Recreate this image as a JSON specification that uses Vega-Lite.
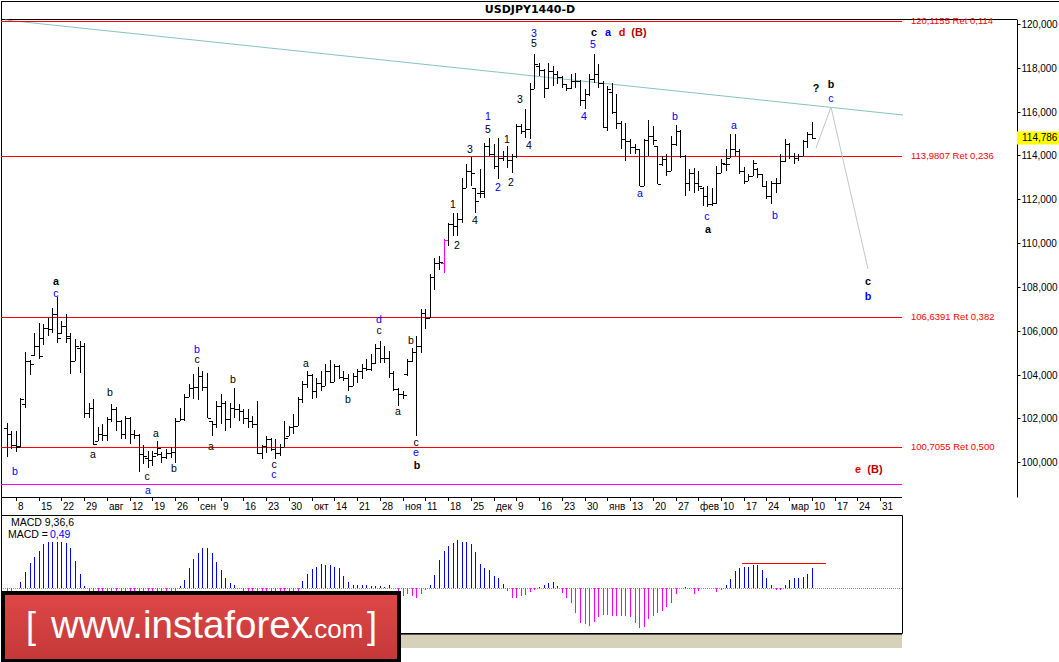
{
"$schema":"https://vega.github.io/schema/vega-lite/v6.json",
"background":"#ffffff",
"padding":0,
"spacing":18,
"bounds":"flush",
"config":{"view":{"stroke":null},"axis":{"grid":false},"locale":{"number":{"decimal":",","thousands":" ","grouping":[3],"currency":["",""]}}},
"datasets":{
"bars":[
{"i":-2,"o":101.57,"h":101.8,"l":100.25,"c":101.27},{"i":-1,"o":101.27,"h":101.42,"l":100.59,"c":100.78},{"i":0,"o":100.78,"h":101.42,"l":100.48,"c":100.71},{"i":1,"o":100.75,"h":102.94,"l":100.71,"c":102.87},{"i":2,"o":102.64,"h":105.03,"l":102.49,"c":104.62},{"i":3,"o":104.6,"h":104.66,"l":103.98,"c":104.47},{"i":4,"o":104.9,"h":105.91,"l":104.84,"c":105.3},{"i":5,"o":105.3,"h":106.37,"l":104.69,"c":104.84},{"i":6,"o":105.68,"h":106.32,"l":105.35,"c":106.14},{"i":7,"o":106.14,"h":106.56,"l":105.76,"c":106.06},{"i":8,"o":106.06,"h":107.05,"l":105.88,"c":106.75},{"i":9,"o":106.75,"h":107.54,"l":105.45,"c":105.68},{"i":10,"o":105.91,"h":106.44,"l":105.83,"c":106.21},{"i":11,"o":106.21,"h":106.75,"l":105.45,"c":105.76},{"i":12,"o":105.68,"h":105.91,"l":104.04,"c":104.62},{"i":13,"o":104.62,"h":105.6,"l":104.62,"c":105.3},{"i":14,"o":105.23,"h":105.53,"l":104.08,"c":105.3},{"i":15,"o":105.3,"h":105.45,"l":102.03,"c":102.26},{"i":16,"o":102.26,"h":102.72,"l":102.03,"c":102.49},{"i":17,"o":102.49,"h":102.87,"l":100.78,"c":100.82},{"i":18,"o":100.97,"h":101.62,"l":100.97,"c":101.27},{"i":19,"o":101.27,"h":101.73,"l":100.97,"c":101.24},{"i":20,"o":101.24,"h":102.06,"l":100.97,"c":101.95},{"i":21,"o":101.95,"h":102.64,"l":101.85,"c":102.41},{"i":22,"o":102.41,"h":102.52,"l":101.42,"c":101.88},{"i":23,"o":101.88,"h":101.91,"l":101.04,"c":101.27},{"i":24,"o":101.27,"h":102.11,"l":101.04,"c":102.0},{"i":25,"o":102.0,"h":102.06,"l":100.82,"c":101.27},{"i":26,"o":101.27,"h":101.45,"l":101.04,"c":101.24},{"i":27,"o":101.24,"h":101.3,"l":99.57,"c":100.36},{"i":28,"o":100.36,"h":100.77,"l":99.9,"c":100.28},{"i":29,"o":100.2,"h":100.51,"l":99.72,"c":100.08},{"i":30,"o":100.08,"h":100.51,"l":99.83,"c":100.28},{"i":31,"o":100.43,"h":100.97,"l":100.28,"c":100.66},{"i":32,"o":100.36,"h":100.48,"l":99.98,"c":100.24},{"i":33,"o":100.24,"h":100.59,"l":100.13,"c":100.43},{"i":34,"o":100.43,"h":100.69,"l":100.21,"c":100.48},{"i":35,"o":100.48,"h":102.03,"l":99.98,"c":101.88},{"i":36,"o":101.88,"h":102.49,"l":101.88,"c":101.95},{"i":37,"o":101.95,"h":103.1,"l":101.88,"c":102.97},{"i":38,"o":102.97,"h":103.55,"l":102.97,"c":103.37},{"i":39,"o":103.37,"h":104.01,"l":102.87,"c":103.43},{"i":40,"o":103.43,"h":104.34,"l":102.84,"c":103.93},{"i":41,"o":103.93,"h":104.16,"l":103.25,"c":103.43},{"i":42,"o":103.43,"h":104.08,"l":102.0,"c":102.03},{"i":43,"o":101.88,"h":101.9,"l":101.19,"c":101.73},{"i":44,"o":101.73,"h":102.79,"l":101.57,"c":102.56},{"i":45,"o":102.56,"h":103.1,"l":101.73,"c":102.72},{"i":46,"o":102.72,"h":102.8,"l":101.42,"c":101.95},{"i":47,"o":101.95,"h":102.72,"l":101.57,"c":102.49},{"i":48,"o":102.49,"h":103.4,"l":102.03,"c":102.41},{"i":49,"o":102.41,"h":102.64,"l":101.88,"c":102.34},{"i":50,"o":102.34,"h":102.41,"l":101.73,"c":102.03},{"i":51,"o":102.03,"h":102.41,"l":101.57,"c":101.88},{"i":52,"o":101.88,"h":102.11,"l":101.57,"c":101.73},{"i":53,"o":101.73,"h":102.79,"l":100.36,"c":100.4},{"i":54,"o":100.4,"h":100.78,"l":100.13,"c":100.74},{"i":55,"o":100.74,"h":101.19,"l":100.43,"c":101.04},{"i":56,"o":101.04,"h":101.12,"l":100.51,"c":100.59},{"i":57,"o":100.59,"h":101.04,"l":100.13,"c":100.43},{"i":58,"o":100.43,"h":100.81,"l":100.28,"c":100.69},{"i":59,"o":100.69,"h":101.88,"l":100.69,"c":101.12},{"i":60,"o":101.19,"h":101.65,"l":101.19,"c":101.6},{"i":61,"o":101.6,"h":102.18,"l":101.27,"c":101.65},{"i":62,"o":101.65,"h":102.97,"l":101.65,"c":102.87},{"i":63,"o":102.87,"h":103.7,"l":102.72,"c":103.55},{"i":64,"o":103.55,"h":104.16,"l":103.4,"c":103.98},{"i":65,"o":103.98,"h":104.01,"l":102.87,"c":103.25},{"i":66,"o":103.25,"h":103.86,"l":102.94,"c":103.63},{"i":67,"o":103.63,"h":104.16,"l":103.25,"c":103.48},{"i":68,"o":103.48,"h":104.47,"l":103.48,"c":104.16},{"i":69,"o":104.16,"h":104.65,"l":103.63,"c":103.67},{"i":70,"o":103.67,"h":104.47,"l":103.67,"c":104.39},{"i":71,"o":104.39,"h":104.45,"l":103.78,"c":103.89},{"i":72,"o":103.89,"h":104.16,"l":103.7,"c":103.86},{"i":73,"o":103.86,"h":104.01,"l":103.25,"c":103.48},{"i":74,"o":103.48,"h":104.09,"l":103.48,"c":103.93},{"i":75,"o":103.93,"h":104.24,"l":103.63,"c":104.16},{"i":76,"o":104.16,"h":104.47,"l":103.78,"c":104.31},{"i":77,"o":104.31,"h":104.69,"l":104.16,"c":104.24},{"i":78,"o":104.24,"h":104.92,"l":104.16,"c":104.54},{"i":79,"o":104.54,"h":105.38,"l":104.47,"c":105.23},{"i":80,"o":105.23,"h":105.53,"l":104.54,"c":104.77},{"i":81,"o":104.77,"h":105.3,"l":104.54,"c":104.77},{"i":82,"o":104.77,"h":105.07,"l":103.86,"c":104.09},{"i":83,"o":104.09,"h":104.16,"l":103.25,"c":103.32},{"i":84,"o":103.32,"h":103.4,"l":102.56,"c":103.13},{"i":85,"o":103.13,"h":103.25,"l":102.87,"c":103.07},{"i":86,"o":104.01,"h":104.69,"l":103.93,"c":104.62},{"i":87,"o":104.62,"h":105.23,"l":104.55,"c":105.05},{"i":88,"o":105.05,"h":105.75,"l":101.2,"c":105.3},{"i":89,"o":105.3,"h":106.98,"l":105.0,"c":106.8},{"i":90,"o":106.8,"h":106.98,"l":106.06,"c":106.6},{"i":91,"o":106.6,"h":108.57,"l":106.6,"c":108.45},{"i":92,"o":108.45,"h":109.33,"l":107.85,"c":109.1},{"i":93,"o":109.1,"h":109.4,"l":108.75,"c":109.15},{"i":94,"o":109.1,"h":110.17,"l":108.62,"c":110.14,"hl":1},{"i":95,"o":110.14,"h":110.93,"l":109.87,"c":110.88},{"i":96,"o":110.88,"h":111.38,"l":110.32,"c":110.8},{"i":97,"o":110.8,"h":111.36,"l":110.33,"c":111.1},{"i":98,"o":111.1,"h":112.98,"l":110.93,"c":112.53},{"i":99,"o":112.53,"h":113.59,"l":112.5,"c":113.29},{"i":100,"o":113.29,"h":113.93,"l":112.6,"c":113.21},{"i":101,"o":112.5,"h":112.53,"l":111.39,"c":111.92},{"i":102,"o":112.3,"h":113.36,"l":112.07,"c":112.37},{"i":103,"o":112.3,"h":114.58,"l":112.07,"c":114.43},{"i":104,"o":114.43,"h":114.81,"l":113.97,"c":114.05},{"i":105,"o":114.05,"h":114.5,"l":113.36,"c":113.51},{"i":106,"o":113.51,"h":114.81,"l":112.91,"c":113.86},{"i":107,"o":113.86,"h":114.2,"l":113.74,"c":113.97},{"i":108,"o":113.97,"h":114.43,"l":113.44,"c":113.8},{"i":109,"o":113.8,"h":114.05,"l":113.21,"c":113.97},{"i":110,"o":113.97,"h":115.42,"l":113.9,"c":115.34},{"i":111,"o":115.34,"h":115.42,"l":114.96,"c":115.11},{"i":112,"o":115.11,"h":116.1,"l":114.81,"c":115.19},{"i":113,"o":115.19,"h":117.32,"l":114.73,"c":117.01},{"i":114,"o":117.01,"h":118.64,"l":117.01,"c":118.15},{"i":115,"o":118.1,"h":118.2,"l":117.6,"c":117.9},{"i":116,"o":117.9,"h":117.92,"l":116.63,"c":117.09},{"i":117,"o":117.09,"h":118.23,"l":117.01,"c":117.85},{"i":118,"o":117.85,"h":118.08,"l":117.17,"c":117.7},{"i":119,"o":117.7,"h":117.85,"l":117.24,"c":117.57},{"i":120,"o":117.57,"h":117.6,"l":117.09,"c":117.24},{"i":121,"o":117.24,"h":117.26,"l":116.94,"c":117.09},{"i":122,"o":117.09,"h":117.7,"l":117.05,"c":117.39},{"i":123,"o":117.39,"h":117.77,"l":117.09,"c":117.39},{"i":124,"o":117.39,"h":117.45,"l":116.25,"c":116.51},{"i":125,"o":116.51,"h":117.01,"l":116.1,"c":116.78},{"i":126,"o":116.78,"h":117.7,"l":116.71,"c":117.47},{"i":127,"o":117.47,"h":118.61,"l":117.32,"c":117.73},{"i":128,"o":117.73,"h":118.15,"l":117.09,"c":117.32},{"i":129,"o":117.32,"h":117.4,"l":115.26,"c":115.29},{"i":130,"o":115.29,"h":117.17,"l":115.11,"c":117.01},{"i":131,"o":116.9,"h":117.32,"l":115.9,"c":115.96},{"i":132,"o":115.96,"h":116.78,"l":115.19,"c":115.49},{"i":133,"o":115.49,"h":115.55,"l":114.27,"c":114.73},{"i":134,"o":114.73,"h":115.49,"l":113.74,"c":114.65},{"i":135,"o":114.65,"h":114.73,"l":114.05,"c":114.38},{"i":136,"o":114.38,"h":114.5,"l":114.05,"c":114.27},{"i":137,"o":114.27,"h":114.3,"l":112.6,"c":112.62},{"i":138,"o":112.62,"h":114.73,"l":112.6,"c":114.69},{"i":139,"o":114.69,"h":115.6,"l":113.97,"c":114.88},{"i":140,"o":114.88,"h":115.34,"l":114.47,"c":114.69},{"i":141,"o":114.43,"h":114.45,"l":112.68,"c":112.7},{"i":142,"o":113.59,"h":113.97,"l":113.51,"c":113.82},{"i":143,"o":113.82,"h":114.05,"l":113.06,"c":113.29},{"i":144,"o":113.29,"h":114.88,"l":113.29,"c":114.5},{"i":145,"o":114.5,"h":115.38,"l":114.43,"c":115.11},{"i":146,"o":115.11,"h":115.15,"l":113.9,"c":113.97},{"i":147,"o":113.97,"h":114.0,"l":112.15,"c":112.75},{"i":148,"o":112.75,"h":113.4,"l":112.37,"c":113.21},{"i":149,"o":113.21,"h":113.44,"l":112.3,"c":112.75},{"i":150,"o":112.75,"h":113.29,"l":112.37,"c":112.6},{"i":151,"o":112.53,"h":112.55,"l":111.69,"c":112.15},{"i":152,"o":112.15,"h":112.6,"l":111.66,"c":111.76},{"i":153,"o":111.76,"h":112.53,"l":111.69,"c":111.84},{"i":154,"o":111.84,"h":113.51,"l":111.77,"c":113.21},{"i":155,"o":113.21,"h":113.82,"l":113.21,"c":113.67},{"i":156,"o":113.6,"h":114.27,"l":113.29,"c":113.6},{"i":157,"o":113.9,"h":114.96,"l":113.89,"c":114.27},{"i":158,"o":114.27,"h":114.96,"l":113.97,"c":114.2},{"i":159,"o":114.2,"h":114.27,"l":113.13,"c":113.29},{"i":160,"o":113.29,"h":113.47,"l":112.68,"c":112.83},{"i":161,"o":112.83,"h":113.13,"l":112.83,"c":113.06},{"i":162,"o":113.06,"h":113.79,"l":113.06,"c":113.67},{"i":163,"o":113.4,"h":113.44,"l":112.98,"c":113.13},{"i":164,"o":113.13,"h":113.15,"l":112.57,"c":112.6},{"i":165,"o":112.6,"h":112.83,"l":111.99,"c":112.15},{"i":166,"o":112.15,"h":112.83,"l":111.77,"c":112.75},{"i":167,"o":112.75,"h":112.98,"l":112.3,"c":112.75},{"i":168,"o":112.75,"h":114.05,"l":112.7,"c":113.74},{"i":169,"o":113.74,"h":114.73,"l":113.7,"c":114.5},{"i":170,"o":114.5,"h":114.55,"l":113.82,"c":113.97},{"i":171,"o":113.97,"h":114.12,"l":113.62,"c":113.9},{"i":172,"o":113.9,"h":114.08,"l":113.74,"c":113.97},{"i":173,"o":113.97,"h":114.72,"l":113.97,"c":114.65},{"i":174,"o":114.65,"h":115.08,"l":114.35,"c":114.99},{"i":175,"o":114.99,"h":115.52,"l":114.73,"c":114.786}
],
"macd":[
{"i":-2,"v":-0.1},{"i":-1,"v":-0.08},{"i":0,"v":-0.02},{"i":1,"v":0.14},{"i":2,"v":0.41},{"i":3,"v":0.63},{"i":4,"v":0.78},{"i":5,"v":0.93},{"i":6,"v":1.12},{"i":7,"v":1.16},{"i":8,"v":1.16},{"i":9,"v":1.16},{"i":10,"v":1.16},{"i":11,"v":1.13},{"i":12,"v":1.02},{"i":13,"v":0.68},{"i":14,"v":0.34},{"i":15,"v":0.04},
{"i":16,"v":-0.08},{"i":17,"v":-0.18},{"i":18,"v":-0.28},{"i":19,"v":-0.36},{"i":20,"v":-0.4},{"i":21,"v":-0.42},{"i":22,"v":-0.44},{"i":23,"v":-0.46},{"i":24,"v":-0.47},{"i":25,"v":-0.48},{"i":26,"v":-0.5},{"i":27,"v":-0.55},{"i":28,"v":-0.58},{"i":29,"v":-0.6},{"i":30,"v":-0.58},{"i":31,"v":-0.52},{"i":32,"v":-0.46},{"i":33,"v":-0.38},{"i":34,"v":-0.3},{"i":35,"v":-0.15},
{"i":36,"v":0.04},{"i":37,"v":0.19},{"i":38,"v":0.51},{"i":39,"v":0.74},{"i":40,"v":0.89},{"i":41,"v":1.0},{"i":42,"v":1.0},{"i":43,"v":0.89},{"i":44,"v":0.65},{"i":45,"v":0.44},{"i":46,"v":0.25},{"i":47,"v":0.13},{"i":48,"v":0.08},
{"i":49,"v":-0.02},{"i":50,"v":-0.08},{"i":51,"v":-0.14},{"i":52,"v":-0.2},{"i":53,"v":-0.3},{"i":54,"v":-0.38},{"i":55,"v":-0.42},{"i":56,"v":-0.45},{"i":57,"v":-0.46},{"i":58,"v":-0.44},{"i":59,"v":-0.38},{"i":60,"v":-0.3},{"i":61,"v":-0.2},{"i":62,"v":-0.1},
{"i":63,"v":0.17},{"i":64,"v":0.36},{"i":65,"v":0.47},{"i":66,"v":0.52},{"i":67,"v":0.59},{"i":68,"v":0.58},{"i":69,"v":0.57},{"i":70,"v":0.52},{"i":71,"v":0.49},{"i":72,"v":0.3},{"i":73,"v":0.14},{"i":74,"v":0.07},{"i":75,"v":0.07},{"i":76,"v":0.07},{"i":77,"v":0.08},{"i":78,"v":0.05},{"i":79,"v":0.04},{"i":80,"v":0.04},{"i":81,"v":0.03},{"i":82,"v":0.07},
{"i":83,"v":-0.02},{"i":84,"v":-0.13},{"i":85,"v":-0.21},{"i":86,"v":-0.17},{"i":87,"v":-0.21},{"i":88,"v":-0.25},{"i":89,"v":-0.17},{"i":90,"v":-0.07},
{"i":91,"v":0.07},{"i":92,"v":0.31},{"i":93,"v":0.7},{"i":94,"v":0.93},{"i":95,"v":1.06},{"i":96,"v":1.13},{"i":97,"v":1.2},{"i":98,"v":1.16},{"i":99,"v":1.16},{"i":100,"v":1.1},{"i":101,"v":0.91},{"i":102,"v":0.61},{"i":103,"v":0.49},{"i":104,"v":0.44},{"i":105,"v":0.3},{"i":106,"v":0.25},{"i":107,"v":0.1},
{"i":108,"v":-0.08},{"i":109,"v":-0.27},{"i":110,"v":-0.25},{"i":111,"v":-0.21},{"i":112,"v":-0.19},{"i":113,"v":-0.12},{"i":114,"v":-0.06},
{"i":115,"v":0.03},{"i":116,"v":0.06},{"i":117,"v":0.13},{"i":118,"v":0.15},{"i":119,"v":0.04},
{"i":120,"v":-0.13},{"i":121,"v":-0.25},{"i":122,"v":-0.38},{"i":123,"v":-0.63},{"i":124,"v":-0.89},{"i":125,"v":-0.93},{"i":126,"v":-0.97},{"i":127,"v":-0.86},{"i":128,"v":-0.74},{"i":129,"v":-0.7},{"i":130,"v":-0.69},{"i":131,"v":-0.72},{"i":132,"v":-0.72},{"i":133,"v":-0.72},{"i":134,"v":-0.72},{"i":135,"v":-0.74},{"i":136,"v":-0.89},{"i":137,"v":-1.02},{"i":138,"v":-0.99},{"i":139,"v":-0.8},{"i":140,"v":-0.72},{"i":141,"v":-0.63},{"i":142,"v":-0.58},{"i":143,"v":-0.49},{"i":144,"v":-0.38},{"i":145,"v":-0.17},{"i":146,"v":-0.01},
{"i":147,"v":0.03},{"i":148,"v":-0.04},{"i":149,"v":-0.15},{"i":150,"v":-0.08},{"i":151,"v":-0.02},{"i":152,"v":-0.02},{"i":153,"v":-0.02},{"i":154,"v":-0.1},{"i":155,"v":-0.05},
{"i":156,"v":0.08},{"i":157,"v":0.22},{"i":158,"v":0.42},{"i":159,"v":0.49},{"i":160,"v":0.52},{"i":161,"v":0.52},{"i":162,"v":0.58},{"i":163,"v":0.58},{"i":164,"v":0.45},{"i":165,"v":0.24},{"i":166,"v":0.06},
{"i":167,"v":-0.05},{"i":168,"v":-0.05},
{"i":169,"v":0.06},{"i":170,"v":0.19},{"i":171,"v":0.25},{"i":172,"v":0.25},{"i":173,"v":0.27},{"i":174,"v":0.36},{"i":175,"v":0.49}
],
"dates":[{"i":0,"t":"8"},{"i":5,"t":"15"},{"i":10,"t":"22"},{"i":15,"t":"29"},{"i":20,"t":"авг"},{"i":25,"t":"12"},{"i":30,"t":"19"},{"i":35,"t":"26"},{"i":40,"t":"сен"},{"i":45,"t":"9"},{"i":50,"t":"16"},{"i":55,"t":"23"},{"i":60,"t":"30"},{"i":65,"t":"окт"},{"i":70,"t":"14"},{"i":75,"t":"21"},{"i":80,"t":"28"},{"i":85,"t":"ноя"},{"i":90,"t":"11"},{"i":95,"t":"18"},{"i":100,"t":"25"},{"i":105,"t":"дек"},{"i":110,"t":"9"},{"i":115,"t":"16"},{"i":120,"t":"23"},{"i":125,"t":"30"},{"i":130,"t":"янв"},{"i":135,"t":"13"},{"i":140,"t":"20"},{"i":145,"t":"27"},{"i":150,"t":"фев"},{"i":155,"t":"10"},{"i":160,"t":"17"},{"i":165,"t":"24"},{"i":170,"t":"мар"},{"i":175,"t":"10"},{"i":180,"t":"17"},{"i":185,"t":"24"},{"i":190,"t":"31"}],
"fib":[{"p":120.1155,"t":"120,1155 Ret 0,114"},{"p":113.9807,"t":"113,9807 Ret 0,236"},{"p":106.6391,"t":"106,6391 Ret 0,382"},{"p":100.7055,"t":"100,7055 Ret 0,500"}],
"proj":[{"i":175.9,"p":114.35},{"i":179.2,"p":116.2},{"i":187.3,"p":108.83}],
"waves":[
{"i":113.83,"p":119.53,"t":"3","deg":"b"},{"i":113.89,"p":119.07,"t":"5","deg":"k"},{"i":127.02,"p":119.569,"t":"c","deg":"K"},{"i":130.1,"p":119.583,"t":"a","deg":"B"},{"i":133.24,"p":119.583,"t":"d","deg":"r"},{"i":136.91,"p":119.583,"t":"(B)","deg":"R"},{"i":126.93,"p":119.049,"t":"5","deg":"b"},
{"i":103.78,"p":115.76,"t":"1","deg":"b"},{"i":103.78,"p":115.16,"t":"5","deg":"k"},{"i":99.89,"p":114.258,"t":"3","deg":"k"},{"i":108.02,"p":114.687,"t":"1","deg":"k"},{"i":110.88,"p":116.526,"t":"3","deg":"k"},{"i":124.89,"p":115.736,"t":"4","deg":"b"},{"i":112.86,"p":114.427,"t":"4","deg":"k"},{"i":105.98,"p":112.497,"t":"2","deg":"b"},{"i":108.9,"p":112.752,"t":"2","deg":"k"},{"i":96.02,"p":111.721,"t":"1","deg":"k"},{"i":100.99,"p":111.018,"t":"4","deg":"k"},{"i":96.97,"p":109.864,"t":"2","deg":"k"},
{"i":137.13,"p":112.223,"t":"a","deg":"b"},{"i":144.89,"p":115.736,"t":"b","deg":"b"},{"i":157.93,"p":115.353,"t":"a","deg":"b"},{"i":175.89,"p":117.014,"t":"?","deg":"K"},{"i":179.19,"p":117.19,"t":"b","deg":"K"},{"i":179.12,"p":116.57,"t":"c","deg":"b"},{"i":151.99,"p":111.17,"t":"c","deg":"b"},{"i":152.08,"p":110.6,"t":"a","deg":"K"},{"i":166.94,"p":111.233,"t":"b","deg":"b"},{"i":187.25,"p":108.2,"t":"c","deg":"K"},{"i":187.25,"p":107.52,"t":"b","deg":"B"},{"i":185.05,"p":99.657,"t":"e","deg":"r"},{"i":188.92,"p":99.657,"t":"(B)","deg":"R"},
{"i":8.88,"p":108.21,"t":"a","deg":"K"},{"i":8.88,"p":107.67,"t":"c","deg":"b"},{"i":-0.13,"p":99.566,"t":"b","deg":"b"},{"i":20.75,"p":103.142,"t":"b","deg":"k"},{"i":16.88,"p":100.313,"t":"a","deg":"k"},{"i":30.86,"p":101.299,"t":"a","deg":"k"},{"i":28.82,"p":99.31,"t":"c","deg":"k"},{"i":28.97,"p":98.7,"t":"a","deg":"b"},{"i":34.82,"p":99.712,"t":"b","deg":"k"},{"i":39.88,"p":105.13,"t":"b","deg":"b"},{"i":39.88,"p":104.66,"t":"c","deg":"k"},{"i":47.79,"p":103.736,"t":"b","deg":"k"},{"i":42.95,"p":100.706,"t":"a","deg":"k"},{"i":56.8,"p":99.89,"t":"c","deg":"k"},{"i":56.8,"p":99.43,"t":"c","deg":"b"},{"i":63.84,"p":104.493,"t":"a","deg":"k"},{"i":72.94,"p":102.823,"t":"b","deg":"k"},{"i":79.89,"p":106.49,"t":"d","deg":"b"},{"i":79.89,"p":106.0,"t":"c","deg":"k"},{"i":83.93,"p":102.303,"t":"a","deg":"k"},{"i":86.85,"p":105.529,"t":"b","deg":"k"},{"i":88.02,"p":100.88,"t":"c","deg":"k"},{"i":88.02,"p":100.43,"t":"e","deg":"b"},{"i":88.17,"p":99.83,"t":"b","deg":"K"}
]
},
"vconcat":[
{
"width":1016,"height":478,
"data":{"values":[{}]},
"layer":[
{"mark":{"type":"rule","color":"#000000","yOffset":0.5},"encoding":{"x":{"datum":-3.2754,"type":"quantitative"},"x2":{"datum":229.3},"y":{"datum":121.044,"type":"quantitative"}}},
{"mark":{"type":"rule","color":"#000000","yOffset":0.5},"encoding":{"x":{"datum":-3.2754,"type":"quantitative"},"x2":{"datum":220.07},"y":{"datum":120.2227,"type":"quantitative"}}},
{"mark":{"type":"rule","color":"#000000","xOffset":0.5},"encoding":{"x":{"datum":-3.2754,"type":"quantitative"},"y":{"datum":121.044,"type":"quantitative"},"y2":{"datum":90.8828}}},
{"mark":{"type":"rule","color":"#000000","xOffset":0.5},"encoding":{"x":{"datum":229.3,"type":"quantitative"},"y":{"datum":121.044,"type":"quantitative"},"y2":{"datum":90.8828}}},
{"mark":{"type":"rule","color":"#000000","yOffset":0.5},"encoding":{"x":{"datum":-3.2754,"type":"quantitative"},"x2":{"datum":194.79},"y":{"datum":98.4121,"type":"quantitative"}}},
{"data":{"name":"dates"},"mark":{"type":"rule","color":"#000000","xOffset":0.5},"encoding":{"x":{"field":"i","type":"quantitative"},"y":{"datum":98.4121,"type":"quantitative"},"y2":{"datum":98.2296}}},
{"data":{"name":"dates"},"mark":{"type":"text","font":"Liberation Sans","fontSize":10,"align":"left","baseline":"middle","dx":2,"color":"#000000"},"encoding":{"x":{"field":"i","type":"quantitative"},"y":{"datum":97.9694,"type":"quantitative"},"text":{"field":"t"}}},
{"mark":{"type":"text","text":"USDJPY1440-D","font":"DejaVu Sans","fontSize":11,"fontWeight":"bold","align":"center","baseline":"middle","color":"#000000"},"encoding":{"x":{"datum":113.0,"type":"quantitative"},"y":{"datum":120.633,"type":"quantitative"}}},
{"mark":{"type":"rule","color":"#86c2c2","strokeWidth":1},"encoding":{"x":{"datum":-2.4,"type":"quantitative"},"y":{"datum":120.18,"type":"quantitative"},"x2":{"datum":194.9},"y2":{"datum":115.86}}},
{"mark":{"type":"rule","color":"#ff00ff","yOffset":0.5},"encoding":{"x":{"datum":-3.2754,"type":"quantitative"},"x2":{"datum":194.79},"y":{"datum":98.99,"type":"quantitative"}}},
{"data":{"name":"fib"},"mark":{"type":"rule","color":"#ff0000","yOffset":0.5},"encoding":{"x":{"datum":-3.2754,"type":"quantitative"},"x2":{"datum":194.79},"y":{"field":"p","type":"quantitative"}}},
{"data":{"name":"fib"},"mark":{"type":"text","font":"Liberation Sans","fontSize":9.5,"align":"left","baseline":"middle","color":"#ff0000"},"encoding":{"x":{"datum":196.77,"type":"quantitative"},"y":{"field":"p","type":"quantitative"},"text":{"field":"t"}}},
{"data":{"name":"proj"},"mark":{"type":"line","color":"#c4c4c4","strokeWidth":1},"encoding":{"x":{"field":"i","type":"quantitative"},"y":{"field":"p","type":"quantitative"}}},
{"data":{"name":"bars"},"mark":{"type":"rule","strokeWidth":1,"xOffset":0.5},"encoding":{
"x":{"field":"i","type":"quantitative","scale":{"domain":[-3.2754,220.07],"nice":false,"zero":false,"round":true},"axis":{"orient":"bottom","title":null,"labels":false,"ticks":false,"domain":false,"grid":false}},
"y":{"field":"h","type":"quantitative","scale":{"domain":[98.4121,120.2227],"nice":false,"zero":false,"round":true},
"axis":{"orient":"right","title":null,"values":[100,102,104,106,108,110,112,114,116,118,120],"format":".3f","domain":true,"domainColor":"#000000","ticks":true,"tickSize":3,"tickColor":"#000000","labelPadding":1,"labelFont":"Liberation Sans","labelFontSize":10,"labelColor":"#000000","labelOverlap":false,"labelFlush":false,"grid":false}},
"y2":{"field":"l"},
"color":{"condition":{"test":"datum.hl == 1","value":"#ff00ff"},"value":"#000000"}}},
{"data":{"name":"bars"},"mark":{"type":"tick","orient":"horizontal","size":3,"thickness":1,"opacity":1,"xOffset":-1.5,"yOffset":0.5},"encoding":{"x":{"field":"i","type":"quantitative"},"y":{"field":"o","type":"quantitative"},"color":{"condition":{"test":"datum.hl == 1","value":"#ff00ff"},"value":"#000000"}}},
{"data":{"name":"bars"},"mark":{"type":"tick","orient":"horizontal","size":3,"thickness":1,"opacity":1,"xOffset":2.5,"yOffset":0.5},"encoding":{"x":{"field":"i","type":"quantitative"},"y":{"field":"c","type":"quantitative"},"color":{"condition":{"test":"datum.hl == 1","value":"#ff00ff"},"value":"#000000"}}},
{"data":{"name":"waves"},"transform":[{"filter":"datum.deg == 'k' || datum.deg == 'b'"}],"mark":{"type":"text","font":"Liberation Sans","align":"center","baseline":"middle"},"encoding":{"x":{"field":"i","type":"quantitative"},"y":{"field":"p","type":"quantitative"},"text":{"field":"t"},
"color":{"field":"deg","type":"nominal","scale":{"domain":["k","b","K","B","r","R"],"range":["#000000","#0000ff","#000000","#0000ff","#e00000","#b40000"]},"legend":null},
"size":{"field":"deg","type":"ordinal","scale":{"domain":["k","b","K","B","r","R"],"range":[10.5,11,12.5,12.5,13,14]},"legend":null}}},
{"data":{"name":"waves"},"transform":[{"filter":"datum.deg != 'k' && datum.deg != 'b'"}],"mark":{"type":"text","font":"Liberation Sans","fontWeight":"bold","align":"center","baseline":"middle"},"encoding":{"x":{"field":"i","type":"quantitative"},"y":{"field":"p","type":"quantitative"},"text":{"field":"t"},
"color":{"field":"deg","type":"nominal","legend":null},
"size":{"field":"deg","type":"ordinal","legend":null}}},
{"data":{"name":"bars"},"transform":[{"filter":"datum.i == 175"}],"mark":{"type":"tick","orient":"horizontal","size":42,"thickness":13,"opacity":1,"color":"#ffff00"},"encoding":{"x":{"datum":224.69,"type":"quantitative"},"y":{"field":"c","type":"quantitative"}}},
{"data":{"name":"bars"},"transform":[{"filter":"datum.i == 175"}],"mark":{"type":"text","font":"Liberation Sans","fontSize":10,"align":"left","baseline":"middle","color":"#000000"},"encoding":{"x":{"datum":221.17,"type":"quantitative"},"y":{"field":"c","type":"quantitative"},"text":{"field":"c","type":"quantitative","format":".3f"}}}
]
},
{
"width":901,"height":118,
"data":{"values":[{}]},
"layer":[
{"mark":{"type":"rule","color":"#909090","strokeDash":[1,1],"yOffset":0.5},"encoding":{"x":{"datum":-3.2754,"type":"quantitative","axis":null},"x2":{"datum":194.79},"y":{"datum":0,"type":"quantitative","axis":null}}},
{"data":{"name":"macd"},"mark":{"type":"rule","strokeWidth":1,"xOffset":0.5},"encoding":{
"x":{"field":"i","type":"quantitative","axis":null,"scale":{"domain":[-3.2754,194.79],"nice":false,"zero":false,"round":true}},
"y":{"field":"v","type":"quantitative","axis":null,"scale":{"domain":[-1.15,1.845],"nice":false,"zero":false,"round":true}},
"y2":{"datum":0},
"color":{"condition":{"test":"datum.v < 0","value":"#ff00ff"},"value":"#0000ff"}}},
{"mark":{"type":"rule","color":"#ff0000","yOffset":0.5},"encoding":{"x":{"datum":159.6,"type":"quantitative","axis":null},"x2":{"datum":178.0},"y":{"datum":0.627,"type":"quantitative","axis":null}}},
{"mark":{"type":"rect","filled":false,"color":"#000000","strokeWidth":1,"xOffset":0.5,"x2Offset":0.5,"yOffset":0.5,"y2Offset":0.5},"encoding":{"x":{"datum":-3.2754,"type":"quantitative","axis":null},"x2":{"datum":194.79},"y":{"datum":1.845,"type":"quantitative","axis":null},"y2":{"datum":-1.15}}},
{"mark":{"type":"rect","color":"#d6d2b9"},"encoding":{"x":{"datum":-3.2754,"type":"quantitative","axis":null},"x2":{"datum":194.79},"y":{"datum":-1.1753,"type":"quantitative","axis":null},"y2":{"datum":-1.5306}}},
{"mark":{"type":"rule","color":"#505050","yOffset":0.5},"encoding":{"x":{"datum":-3.2754,"type":"quantitative","axis":null},"x2":{"datum":194.79},"y":{"datum":-1.1753,"type":"quantitative","axis":null}}},
{"mark":{"type":"rule","color":"#000000","yOffset":0.5},"encoding":{"x":{"datum":-3.2754,"type":"quantitative","axis":null},"x2":{"datum":229.3},"y":{"datum":-1.8909,"type":"quantitative","axis":null}}},
{"mark":{"type":"text","text":"MACD 9,36,6","font":"Liberation Sans","fontSize":10.5,"align":"left","baseline":"middle","color":"#000000"},"encoding":{"x":{"datum":-1.187,"type":"quantitative","axis":null},"y":{"datum":1.637,"type":"quantitative","axis":null}}},
{"mark":{"type":"text","text":"MACD =","font":"Liberation Sans","fontSize":10.5,"align":"left","baseline":"middle","color":"#000000"},"encoding":{"x":{"datum":-1.737,"type":"quantitative","axis":null},"y":{"datum":1.3374,"type":"quantitative","axis":null}}},
{"data":{"name":"macd"},"transform":[{"filter":"datum.i == 175"}],"mark":{"type":"text","font":"Liberation Sans","fontSize":10.5,"align":"left","baseline":"middle","color":"#0000ff"},"encoding":{"x":{"datum":7.5,"type":"quantitative","axis":null},"y":{"datum":1.3374,"type":"quantitative","axis":null},"text":{"field":"v","type":"quantitative","format":".2f"}}},
{"mark":{"type":"rect","stroke":"#000000","strokeWidth":4,"fill":{"gradient":"linear","x1":0,"y1":0,"x2":0,"y2":1,"stops":[{"offset":0,"color":"#de4747"},{"offset":1,"color":"#c43838"}]}},"encoding":{"x":{"datum":-2.8358,"type":"quantitative","axis":null},"x2":{"datum":84.216},"y":{"datum":-0.1348,"type":"quantitative","axis":null},"y2":{"datum":-1.8605}}},
{"mark":{"type":"text","text":"[","font":"Liberation Sans","fontSize":36,"align":"left","baseline":"alphabetic","color":"#ffffff"},"encoding":{"x":{"datum":2.22,"type":"quantitative","axis":null},"y":{"datum":-1.2693,"type":"quantitative","axis":null}}},
{"mark":{"type":"text","text":"www.instaforex","font":"Liberation Sans","fontSize":38.5,"align":"left","baseline":"alphabetic","color":"#ffffff"},"encoding":{"x":{"datum":7.8,"type":"quantitative","axis":null},"y":{"datum":-1.2693,"type":"quantitative","axis":null}}},
{"mark":{"type":"text","text":".com","font":"Liberation Sans","fontSize":26,"align":"left","baseline":"alphabetic","color":"#ffffff"},"encoding":{"x":{"datum":64.1,"type":"quantitative","axis":null},"y":{"datum":-1.2693,"type":"quantitative","axis":null}}},
{"mark":{"type":"text","text":"]","font":"Liberation Sans","fontSize":36,"align":"left","baseline":"alphabetic","color":"#ffffff"},"encoding":{"x":{"datum":77.18,"type":"quantitative","axis":null},"y":{"datum":-1.2693,"type":"quantitative","axis":null}}}
]
}
]
}
